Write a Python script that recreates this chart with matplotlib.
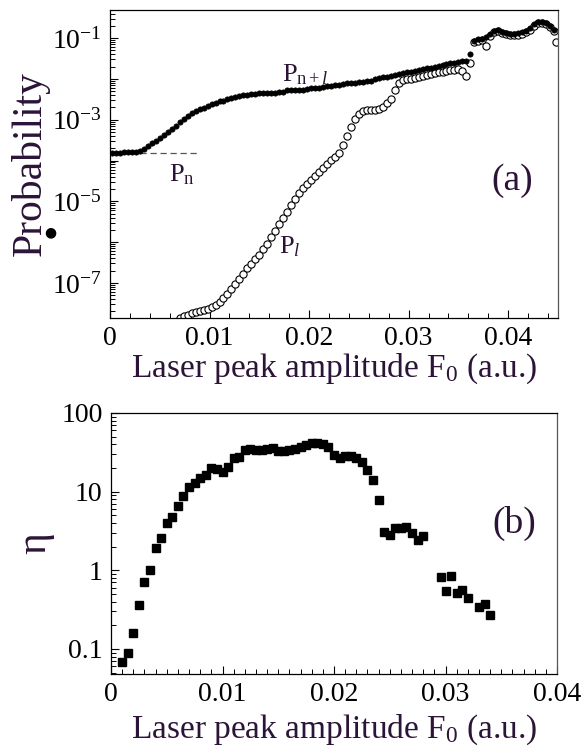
import numpy as np
import matplotlib
matplotlib.use("Agg")
import matplotlib.pyplot as plt
from matplotlib.ticker import LogLocator, FixedLocator, MultipleLocator, FuncFormatter, NullFormatter

plt.rcParams['font.family'] = ['Liberation Serif', 'DejaVu Serif']
plt.rcParams['mathtext.fontset'] = 'custom'
plt.rcParams['mathtext.rm'] = 'Liberation Serif'
plt.rcParams['mathtext.it'] = 'Liberation Serif:italic'

TXT = '#2b1438'

# ---------------- panel (a) data ----------------
f0_nl = [0.0002, 0.0006, 0.0010, 0.0014, 0.0018, 0.0022, 0.0026, 0.0030, 0.0034, 0.0038,
         0.0042, 0.0046, 0.0050, 0.0054, 0.0058, 0.0062, 0.0066, 0.0070, 0.0074, 0.0078,
         0.0082, 0.0086, 0.0090, 0.0094, 0.0098, 0.0102, 0.0106, 0.0110, 0.0114, 0.0118,
         0.0122, 0.0126, 0.0130, 0.0134, 0.0138, 0.0142, 0.0146, 0.0150, 0.0154, 0.0158,
         0.0162, 0.0166, 0.0170, 0.0174, 0.0178, 0.0182, 0.0186, 0.0190, 0.0194, 0.0198,
         0.0202, 0.0206, 0.0210, 0.0214, 0.0218, 0.0222, 0.0226, 0.0230, 0.0234, 0.0238,
         0.0242, 0.0246, 0.0250, 0.0254, 0.0258, 0.0262, 0.0266, 0.0270, 0.0274, 0.0278,
         0.0282, 0.0286, 0.0290, 0.0294, 0.0298, 0.0302, 0.0306, 0.0310, 0.0314, 0.0318,
         0.0322, 0.0326, 0.0330, 0.0334, 0.0338, 0.0342, 0.0346, 0.0350, 0.0354, 0.0358,
         0.0362, 0.0366, 0.0370, 0.0374, 0.0378, 0.0382, 0.0386, 0.0390, 0.0394, 0.0398,
         0.0402, 0.0406, 0.0410, 0.0414, 0.0418, 0.0422, 0.0426, 0.0430, 0.0434, 0.0438,
         0.0442, 0.0446]
log10_p_nl = [-3.81, -3.81, -3.81, -3.80, -3.80, -3.80, -3.79, -3.77, -3.72, -3.65,
              -3.58, -3.51, -3.45, -3.38, -3.30, -3.23, -3.15, -3.06, -2.98, -2.90,
              -2.84, -2.78, -2.73, -2.71, -2.67, -2.62, -2.58, -2.55, -2.53, -2.49,
              -2.47, -2.45, -2.42, -2.40, -2.39, -2.37, -2.36, -2.35, -2.35, -2.34,
              -2.35, -2.34, -2.33, -2.31, -2.28, -2.27, -2.28, -2.27, -2.26, -2.24,
              -2.23, -2.22, -2.21, -2.20, -2.18, -2.17, -2.15, -2.14, -2.12, -2.11,
              -2.10, -2.09, -2.08, -2.07, -2.05, -2.04, -2.01, -1.98, -1.96, -1.94,
              -1.92, -1.90, -1.88, -1.86, -1.84, -1.82, -1.80, -1.78, -1.76, -1.74,
              -1.72, -1.70, -1.68, -1.66, -1.64, -1.62, -1.60, -1.59, -1.57, -1.55,
              -1.38, -1.07, -1.03, -1.01, -0.97, -0.90, -0.82, -0.81, -0.85, -0.87,
              -0.89, -0.89, -0.88, -0.86, -0.82, -0.76, -0.66, -0.61, -0.61, -0.64,
              -0.70, -0.80]

f0_l = [0.0070, 0.0074, 0.0078, 0.0082, 0.0086, 0.0090, 0.0094, 0.0098, 0.0102, 0.0106,
        0.0110, 0.0114, 0.0118, 0.0122, 0.0126, 0.0130, 0.0134, 0.0138, 0.0142, 0.0146,
        0.0150, 0.0154, 0.0158, 0.0162, 0.0166, 0.0170, 0.0174, 0.0178, 0.0182, 0.0186,
        0.0190, 0.0194, 0.0198, 0.0202, 0.0206, 0.0210, 0.0214, 0.0218, 0.0222, 0.0226,
        0.0230, 0.0234, 0.0238, 0.0242, 0.0246, 0.0250, 0.0254, 0.0258, 0.0262, 0.0266,
        0.0270, 0.0274, 0.0278, 0.0282, 0.0286, 0.0290, 0.0294, 0.0298, 0.0302, 0.0306,
        0.0310, 0.0314, 0.0318, 0.0322, 0.0326, 0.0330, 0.0334, 0.0338, 0.0342, 0.0346,
        0.0350, 0.0354, 0.0358, 0.0362, 0.0366, 0.0370, 0.0374, 0.0378, 0.0382, 0.0386,
        0.0390, 0.0394, 0.0398, 0.0402, 0.0406, 0.0410, 0.0414, 0.0418, 0.0422, 0.0426,
        0.0430, 0.0434, 0.0438, 0.0442, 0.0446, 0.0448]
log10_p_l = [-7.85, -7.82, -7.78, -7.74, -7.71, -7.69, -7.66, -7.63, -7.60, -7.55,
             -7.48, -7.38, -7.27, -7.16, -7.03, -6.90, -6.77, -6.64, -6.53, -6.42,
             -6.31, -6.18, -6.04, -5.88, -5.73, -5.56, -5.40, -5.25, -5.10, -4.95,
             -4.80, -4.68, -4.58, -4.47, -4.38, -4.28, -4.18, -4.08, -3.99, -3.92,
             -3.82, -3.62, -3.40, -3.18, -2.98, -2.85, -2.79, -2.76, -2.75, -2.75,
             -2.74, -2.68, -2.60, -2.48, -2.28, -2.10, -2.03, -2.01, -1.99, -1.97,
             -1.95, -1.93, -1.90, -1.88, -1.86, -1.84, -1.82, -1.80, -1.78, -1.77,
             -1.75, -1.80, -1.92, -1.60, -1.10, -1.08, -1.05, -1.20, -0.95, -0.85,
             -0.83, -0.88, -0.91, -0.93, -0.93, -0.92, -0.89, -0.85, -0.79, -0.69,
             -0.62, -0.63, -0.66, -0.72, -0.83, -1.10]

p_n_level = 1.5e-4
p_n_extent = [0.0, 0.0088]

# ---------------- panel (b) data ----------------
f0_eta = [0.0010, 0.0015, 0.0020, 0.0025, 0.0030, 0.0035, 0.0040, 0.0045, 0.0050, 0.0055,
          0.0060, 0.0065, 0.0070, 0.0075, 0.0080, 0.0085, 0.0090, 0.0095, 0.0100, 0.0105,
          0.0110, 0.0115, 0.0120, 0.0125, 0.0130, 0.0135, 0.0140, 0.0145, 0.0150, 0.0155,
          0.0160, 0.0165, 0.0170, 0.0175, 0.0180, 0.0185, 0.0190, 0.0195, 0.0200, 0.0205,
          0.0210, 0.0215, 0.0220, 0.0225, 0.0230, 0.0235, 0.0240, 0.0245, 0.0250, 0.0255,
          0.0260, 0.0265, 0.0270, 0.0275, 0.0280, 0.0296, 0.0300, 0.0305, 0.0310, 0.0315,
          0.0320, 0.0330, 0.0335, 0.0340]
eta = [0.068, 0.088, 0.16, 0.36, 0.70, 1.0, 1.9, 2.6, 4.0, 4.7,
       6.6, 8.8, 11.3, 12.8, 15.0, 16.5, 20.0, 19.5, 18.0, 20.5,
       27.0, 27.5, 34.0, 34.5, 33.5, 34.0, 35.0, 35.5, 33.0, 32.5,
       34.0, 35.0, 37.0, 39.0, 41.0, 41.5, 40.5, 37.0, 29.0, 27.0,
       28.5, 28.0, 26.5, 24.0, 19.0, 14.0, 7.8, 3.1, 2.8, 3.4,
       3.5, 3.6, 3.0, 2.4, 2.7, 0.82, 0.54, 0.84, 0.51, 0.56,
       0.44, 0.34, 0.37, 0.27]

xticks_a = [0, 0.01, 0.02, 0.03, 0.04]
xticklabels_a = ['0', '0.01', '0.02', '0.03', '0.04']
xticks_b = [0, 0.01, 0.02, 0.03, 0.04]
xticklabels_b = ['0', '0.01', '0.02', '0.03', '0.04']
yticks_b = [0.1, 1, 10, 100]
yticklabels_b = ['0.1', '1', '10', '100']

W, H = 582, 756
fig = plt.figure(figsize=(W / 100, H / 100), dpi=100)

def frac(l, t, r, b):
    return [l / W, 1 - b / H, (r - l) / W, (b - t) / H]

ax1 = fig.add_axes(frac(110, 10, 558, 318))
ax2 = fig.add_axes(frac(111, 413, 557, 674))

XLABEL = r'Laser peak amplitude F$_{\mathregular{0}}$ (a.u.)'

# ---- panel (a)
ax1.plot(f0_l, 10 ** np.array(log10_p_l), 'o', ms=5.2, mfc='white', mec='black', mew=0.8,
         zorder=2)
ax1.plot(f0_nl, 10 ** np.array(log10_p_nl), 'o', ms=3.8, mfc='black', mec='black', mew=0.5,
         zorder=3)
ax1.plot(p_n_extent, [p_n_level, p_n_level], ls=(0, (5, 3)), color='#555555', lw=0.9, zorder=1)
ax1.set_yscale('log')
ax1.set_xlim(0, 0.045)
ax1.set_ylim(1.38e-8, 0.49)
ax1.set_xticks(xticks_a)
ax1.set_xticklabels(xticklabels_a)
ax1.xaxis.set_minor_locator(MultipleLocator(0.002))
ax1.yaxis.set_major_locator(LogLocator(base=10, numticks=20))
ax1.yaxis.set_minor_locator(LogLocator(base=10, subs=np.arange(2, 10), numticks=20))
ax1.yaxis.set_minor_formatter(NullFormatter())

def logfmt(v, pos):
    e = int(round(np.log10(v)))
    if e % 2 == 0:
        return ''
    return r'$\mathregular{10^{%d}}$' % e

ax1.yaxis.set_major_formatter(FuncFormatter(logfmt))
ax1.set_xlabel(XLABEL, fontsize=24, color=TXT, labelpad=0)
ax1.set_ylabel('Probability', fontsize=30, color=TXT, labelpad=1)
ax1.text(0.0173, 8.8e-3, r'P$_{\mathregular{n+}\mathit{l}}$', fontsize=19, color=TXT)
ax1.text(0.0059, 3.0e-5, r'P$_{\mathregular{n}}$', fontsize=19, color=TXT)
ax1.text(0.0170, 5.2e-7, r'P$_{\mathit{l}}$', fontsize=19, color=TXT)
ax1.text(0.0383, 1.9e-5, '(a)', fontsize=27, color=TXT)

# ---- panel (b)
ax2.plot(f0_eta, eta, 's', ms=6.2, mfc='black', mec='black')
ax2.set_yscale('log')
ax2.set_xlim(0, 0.04)
ax2.set_ylim(0.048, 100)
ax2.set_xticks(xticks_b)
ax2.set_xticklabels(xticklabels_b)
ax2.xaxis.set_minor_locator(MultipleLocator(0.001))
ax2.yaxis.set_major_locator(FixedLocator(yticks_b))
ax2.set_yticklabels(yticklabels_b)
ax2.yaxis.set_minor_locator(LogLocator(base=10, subs=np.arange(2, 10), numticks=20))
ax2.yaxis.set_minor_formatter(NullFormatter())
ax2.set_xlabel(XLABEL, fontsize=24, color=TXT, labelpad=4)
ax2.set_ylabel('η', fontsize=30, color=TXT, labelpad=5)
ax2.text(0.0342, 3.0, '(b)', fontsize=27, color=TXT)

for ax in (ax1, ax2):
    ax.tick_params(which='both', direction='in', top=False, right=False,
                   labelsize=20, colors='black')
    ax.tick_params(which='major', length=6, width=0.8, pad=6)
    ax.tick_params(which='minor', length=3.5, width=0.7)
    for s in ax.spines.values():
        s.set_linewidth(0.9)
    ax.spines['right'].set_color('#555555')

# small black dot next to the y label
fig.text(50 / W, 1 - 232 / H, '●', fontsize=10, color='black', ha='center', va='center',
         family='DejaVu Sans')

fig.savefig('out.png', dpi=100)
